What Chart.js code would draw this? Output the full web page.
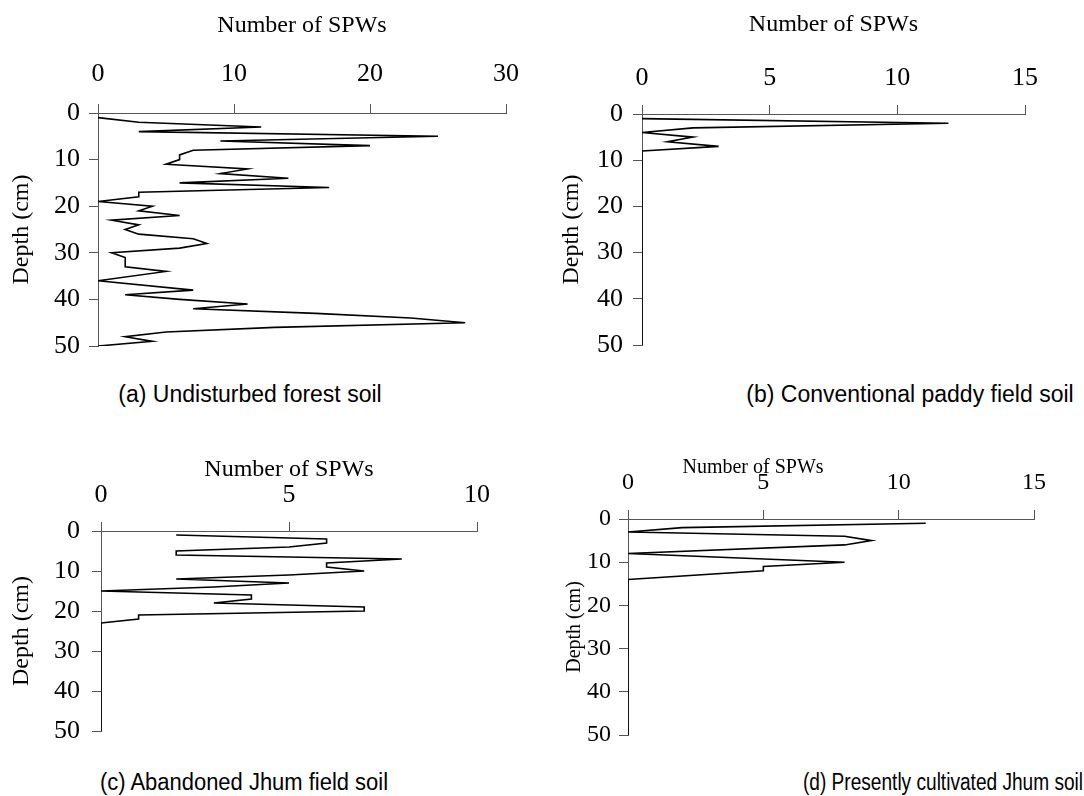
<!DOCTYPE html>
<html>
<head>
<meta charset="utf-8">
<script src="https://cdn.jsdelivr.net/npm/chart.js@4.4.1/dist/chart.umd.min.js"></script>
<style>
body { margin: 0; background: #fff; width: 1084px; height: 796px; position: relative; overflow: hidden; }
.panel { position: absolute; }
.cap { position: absolute; font-family: "Liberation Sans", Arial, sans-serif; font-size: 23px; line-height: 26px; color: #000; white-space: nowrap; }
.ttl { position: absolute; font-family: "Liberation Serif", "Times New Roman", serif; color: #000; white-space: nowrap; transform: translateX(-50%); }
</style>
</head>
<body>
<div class="panel" style="left:0px;top:0px"><canvas id="chartA" width="540" height="380"></canvas></div>
<div class="panel" style="left:550px;top:0px"><canvas id="chartB" width="534" height="380"></canvas></div>
<div class="panel" style="left:0px;top:420px"><canvas id="chartC" width="520" height="340"></canvas></div>
<div class="panel" style="left:556px;top:420px"><canvas id="chartD" width="528" height="340"></canvas></div>

<div class="ttl" style="left:753px;top:454px;font-size:20px;line-height:24px">Number of SPWs</div>

<div class="cap" style="left:250px;top:381px;transform:translateX(-50%)">(a) Undisturbed forest soil</div>
<div class="cap" style="left:910px;top:381px;transform:translateX(-50%)">(b) Conventional paddy field soil</div>
<div class="cap" style="left:244px;top:769px;transform:translateX(-50%) scaleX(0.955)">(c) Abandoned Jhum field soil</div>
<div class="cap" style="left:943px;top:769px;transform:translateX(-50%) scaleX(0.83)">(d) Presently cultivated Jhum soil</div>

<script>
// depth (cm) and number of SPWs at that depth, one pair of arrays per soil
const depthA = [1, 2, 3, 4, 5, 6, 7, 8, 9, 10, 11, 12, 13, 14, 15, 16, 17, 18, 19, 20,
                21, 22, 23, 24, 25, 26, 27, 28, 29, 30, 31, 32, 33, 34, 36, 38, 39, 40,
                41, 42, 43, 44, 45, 46, 47, 48, 49, 50];
const countA = [0, 3, 12, 3, 25, 9, 20, 7, 6, 6, 5, 11, 9, 14, 6, 17, 3, 3, 0, 4,
                3, 6, 1, 3, 2, 3, 7, 8, 6, 1, 2, 2, 2, 5, 0, 7, 2, 6,
                11, 7, 16, 23, 27, 13, 5, 2, 4, 0];

const depthB = [1, 2, 3, 4, 5, 6, 7, 8, 50];
const countB = [0, 12, 2, 0, 2, 1, 3, 0, 0];

const depthC = [1, 2, 3, 4, 5, 6, 7, 8, 9, 10, 11, 12, 13, 14, 15, 16, 17, 18, 19, 20, 21, 22, 23, 50];
const countC = [2, 6, 6, 5, 2, 2, 8, 6, 6, 7, 5, 2, 5, 3, 0, 4, 4, 3, 7, 7, 1, 1, 0, 0];

const depthD = [1, 2, 3, 4, 5, 6, 8, 10, 11, 12, 14, 50];
const countD = [11, 2, 0, 8, 9, 8, 0, 8, 5, 5, 0, 0];

const serif = "'Liberation Serif', 'Times New Roman', serif";
const axisColor = '#555';

function makeChart(id, depths, counts, xMax, xStep, g) {
    const points = depths.map((d, i) => ({x: counts[i], y: d}));
    return new Chart(document.getElementById(id), {
        type: 'scatter',
        data: {
            datasets: [{
                data: points,
                showLine: true,
                borderColor: '#000',
                borderWidth: 1.6,
                pointRadius: 0,
                tension: 0
            }]
        },
        options: {
            responsive: false,
            animation: false,
            layout: { padding: { left: 0, top: 0, right: g.padR, bottom: g.padB } },
            plugins: { legend: { display: false }, tooltip: { enabled: false } },
            scales: {
                x: {
                    type: 'linear',
                    position: 'top',
                    min: 0,
                    max: xMax,
                    ticks: { stepSize: xStep, padding: g.xTickPad, color: '#000', font: { family: serif, size: g.tickSize } },
                    grid: { drawOnChartArea: false, drawTicks: true, tickLength: 9, color: axisColor },
                    border: { display: true, color: axisColor, width: 1 },
                    title: { display: g.showTitle, text: 'Number of SPWs', color: '#000',
                             font: { family: serif, size: g.titleSize }, padding: { top: g.xTitlePad, bottom: 0 } },
                    afterFit: s => { s.height = g.top; s.paddingLeft = 0; s.paddingRight = 0; }
                },
                y: {
                    type: 'linear',
                    reverse: true,
                    min: 0,
                    max: 50,
                    ticks: { stepSize: 10, padding: g.yTickPad, color: '#000', font: { family: serif, size: g.tickSize } },
                    grid: { drawOnChartArea: false, drawTicks: true, tickLength: 9, color: axisColor },
                    border: { display: true, color: axisColor, width: 1 },
                    title: { display: true, text: 'Depth (cm)', color: '#000',
                             font: { family: serif, size: g.yTitleSize }, padding: { top: g.yTitlePad, bottom: 0 } },
                    afterFit: s => { s.width = g.left; s.paddingTop = 0; s.paddingBottom = 0; }
                }
            }
        }
    });
}

makeChart('chartA', depthA, countA, 30, 10,
    { left: 98, top: 113, padR: 34, padB: 34, tickSize: 26, titleSize: 24, yTitleSize: 24, xTickPad: 14.4, yTickPad: 9,
      xTitlePad: 11.6, yTitlePad: 7.6, showTitle: true });
makeChart('chartB', depthB, countB, 15, 5,
    { left: 92, top: 114, padR: 59, padB: 35, tickSize: 26, titleSize: 24, yTitleSize: 24, xTickPad: 11.4, yTickPad: 10,
      xTitlePad: 10, yTitlePad: 7.6, showTitle: true });
makeChart('chartC', depthC, countC, 10, 5,
    { left: 101, top: 111, padR: 43, padB: 29, tickSize: 26, titleSize: 24, yTitleSize: 24, xTickPad: 11.4, yTickPad: 12,
      xTitlePad: 35.6, yTitlePad: 7.6, showTitle: true });
makeChart('chartD', depthD, countD, 15, 5,
    { left: 72, top: 99, padR: 50, padB: 25, tickSize: 24, titleSize: 20, yTitleSize: 20, xTickPad: 13, yTickPad: 8,
      xTitlePad: 34.6, yTitlePad: 7, showTitle: false });
</script>
</body>
</html>
